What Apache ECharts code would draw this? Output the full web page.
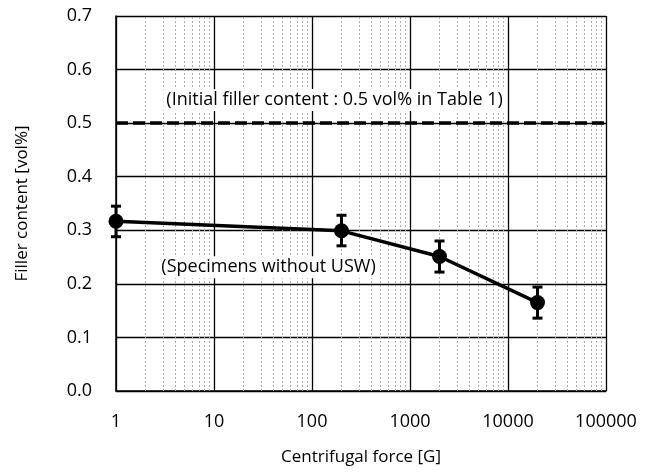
<!DOCTYPE html>
<html><head><meta charset="utf-8">
<script src="https://cdn.jsdelivr.net/npm/echarts@6/dist/echarts.min.js"></script>
<style>html,body{margin:0;padding:0;background:#fff}#c{width:654px;height:474px}</style>
</head><body><div id="c"></div>
<script>
const forces = [1, 200, 2000, 20000];
const filler = [0.317, 0.299, 0.251, 0.165];
const errLow = [0.288, 0.271, 0.222, 0.136];
const errHigh = [0.345, 0.328, 0.280, 0.194];
const initialLevel = 0.5;
const xTicks = [1, 10, 100, 1000, 10000, 100000];
const yTicks = [0.0, 0.1, 0.2, 0.3, 0.4, 0.5, 0.6, 0.7];
const minorX = [];
for (let d = 0; d < 5; d++) for (let k = 2; k <= 9; k++) minorX.push(k * Math.pow(10, d));
const noteInitial = '(Initial filler content : 0.5 vol% in Table 1)';
const noteSpec = '(Specimens without USW)';

const FONT = '"Open Sans", sans-serif';
const chart = echarts.init(document.getElementById('c'));
chart.setOption({
  animation: false,
  grid: {left: 116, right: 48, top: 16, bottom: 83},
  xAxis: {
    type: 'log', logBase: 10, min: xTicks[0], max: xTicks[xTicks.length-1],
    name: 'Centrifugal force [G]', nameLocation: 'middle', nameGap: 58,
    nameTextStyle: {fontFamily: FONT, fontSize: 17, color: '#000'},
    axisLine: {lineStyle: {color: '#000', width: 1.5}},
    axisTick: {show: false},
    axisLabel: {fontFamily: FONT, fontSize: 18, color: '#000', margin: 22, formatter: v => String(Math.round(v))},
    splitLine: {show: true, lineStyle: {color: '#000', width: 1.3}}
  },
  yAxis: {
    type: 'value', min: 0, max: 0.7, interval: 0.1,
    name: 'Filler content [vol%]', nameLocation: 'middle', nameGap: 85,
    nameTextStyle: {fontFamily: FONT, fontSize: 17, color: '#000'},
    axisLine: {show: true, lineStyle: {color: '#000', width: 1.5}},
    axisTick: {show: false},
    axisLabel: {fontFamily: FONT, fontSize: 18, color: '#000', margin: 24, formatter: v => v.toFixed(1)},
    splitLine: {show: true, lineStyle: {color: '#000', width: 1.3}}
  },
  series: [
    {
      type: 'line', data: [], z: 1, silent: true,
      markLine: {
        silent: true, symbol: 'none', label: {show: false},
        lineStyle: {type: [2, 2], color: '#aaa', width: 1},
        data: minorX.map(v => ({xAxis: v}))
      }
    },
    {
      type: 'line', data: [], z: 3, silent: true,
      markLine: {
        silent: true, symbol: 'none', label: {show: false},
        lineStyle: {type: [12, 5], color: '#000', width: 3.5},
        data: [{yAxis: initialLevel}]
      }
    },
    {
      type: 'scatter', z: 5, symbolSize: 0, silent: true,
      itemStyle: {opacity: 1, color: '#000'},
      data: [
        {value: [170, 0.543], label: {formatter: noteInitial}},
        {value: [36, 0.231], label: {formatter: noteSpec}}
      ],
      label: {show: true, position: 'inside', fontFamily: FONT, fontSize: 18, color: '#000',
        backgroundColor: '#fff', padding: [2, 3]}
    },
    {
      type: 'custom', z: 6, silent: true,
      data: forces.map((f, i) => [f, errLow[i], errHigh[i]]),
      renderItem: function (params, api) {
        const lo = api.coord([api.value(0), api.value(1)]);
        const hi = api.coord([api.value(0), api.value(2)]);
        const w = 5;
        const st = {stroke: '#000', lineWidth: 3};
        return {type: 'group', children: [
          {type: 'line', shape: {x1: lo[0], y1: lo[1], x2: hi[0], y2: hi[1]}, style: st},
          {type: 'line', shape: {x1: lo[0]-w, y1: lo[1], x2: lo[0]+w, y2: lo[1]}, style: st},
          {type: 'line', shape: {x1: hi[0]-w, y1: hi[1], x2: hi[0]+w, y2: hi[1]}, style: st}
        ]};
      }
    },
    {
      type: 'line', z: 7, silent: true,
      data: forces.map((f, i) => [f, filler[i]]),
      symbol: 'circle', symbolSize: 15,
      itemStyle: {color: '#000'},
      lineStyle: {color: '#000', width: 3.5}
    }
  ]
});
</script></body></html>
